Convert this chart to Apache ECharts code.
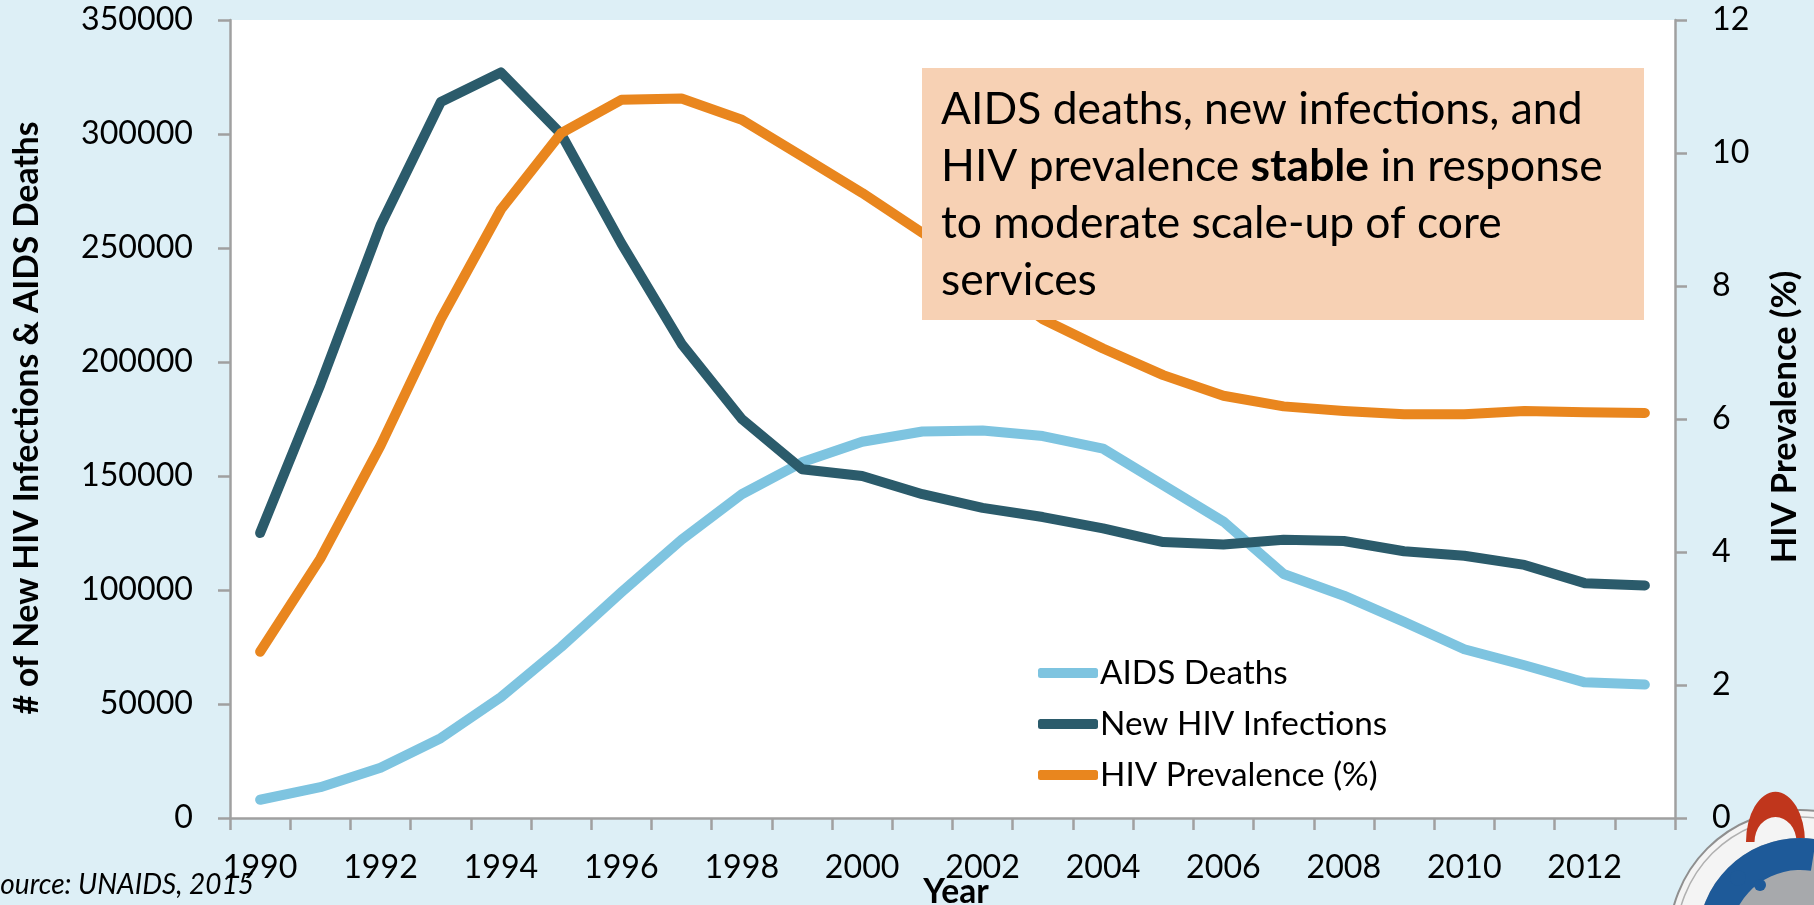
<!DOCTYPE html>
<html>
<head>
<meta charset="utf-8">
<script src="https://cdn.jsdelivr.net/npm/echarts@6/dist/echarts.min.js"></script>
<style>
html,body{margin:0;padding:0;background:#DDEFF6;overflow:hidden}
#c{width:1814px;height:905px}
</style>
</head>
<body>
<div id="c"></div>
<script>
const years = ['1990','1991','1992','1993','1994','1995','1996','1997','1998','1999','2000','2001',
               '2002','2003','2004','2005','2006','2007','2008','2009','2010','2011','2012','2013'];
const aidsDeaths = [8000,13500,22000,35000,53000,75000,99000,122000,142000,156000,165000,169500,
                    170000,167500,162000,146000,130000,107000,97500,86000,74000,67000,59500,58500];
const newInfections = [125000,190000,260000,314000,327000,300000,252000,208000,175000,153000,150000,142000,
                       136000,132000,127000,121000,120000,122000,121500,117000,115000,111000,103000,102000];
const prevalence = [2.5,3.9,5.6,7.5,9.15,10.3,10.8,10.82,10.5,9.95,9.4,8.8,
                    8.15,7.5,7.06,6.66,6.35,6.19,6.12,6.07,6.07,6.12,6.1,6.09];
const leftTicks = {min:0, max:350000, interval:50000};
const rightTicks = {min:0, max:12, interval:2};

const FONT = 'Lato';
const axisGray = '#A0A0A0';

// size a font so that a text spans the width it has in the reference
const mctx = document.createElement('canvas').getContext('2d');
function fit(text, target, weight, style) {
  mctx.font = (style || 'normal') + ' ' + (weight || 'normal') + ' 100px ' + FONT;
  return Math.round(1000 * target / mctx.measureText(text).width) / 10;
}
const fTick = fit('350000', 112);
const fName = fit('# of New HIV Infections & AIDS Deaths', 593, 'bold');
const fNameR = fit('HIV Prevalence (%)', 293, 'bold');
const fNote = fit('AIDS deaths, new infections, and', 641);
const fLeg = fit('New HIV Infections', 287);
const fSrc = fit('UNAIDS, 2015', 176, 'normal', 'italic');

const chart = echarts.init(document.getElementById('c'));

const axisCommon = {
  axisLine:{show:true, lineStyle:{color:axisGray, width:2.5}},
  axisTick:{show:true, length:12, lineStyle:{color:axisGray, width:2.5}},
  splitLine:{show:false},
  axisLabel:{fontSize:fTick, color:'#000', fontFamily:FONT, margin:37, padding:[7,0,0,0],
             formatter:function(v){return String(v);}}
};

chart.setOption({
  backgroundColor:'#DDEFF6',
  animation:false,
  grid:{left:230, right:139, top:20, bottom:87, show:true, backgroundColor:'#ffffff', borderWidth:0},
  xAxis:{
    type:'category', data:years, boundaryGap:true,
    axisLine:{show:true, lineStyle:{color:axisGray, width:2.5}},
    axisTick:{show:true, interval:0, length:12, lineStyle:{color:axisGray, width:2.5}},
    axisLabel:{interval:1, fontSize:fTick, color:'#000', fontFamily:FONT, margin:34}
  },
  yAxis:[
    Object.assign({type:'value', position:'left'}, leftTicks, axisCommon),
    Object.assign({type:'value', position:'right'}, rightTicks, axisCommon)
  ],
  legend:{
    orient:'vertical', left:1033, top:650, itemWidth:60, itemHeight:10, itemGap:15,
    icon:'roundRect',
    textStyle:{fontSize:fLeg, fontFamily:FONT, color:'#000', lineHeight:36, padding:[0,0,0,-3]},
    data:['AIDS Deaths','New HIV Infections','HIV Prevalence (%)']
  },
  series:[
    {name:'AIDS Deaths', type:'line', data:aidsDeaths, yAxisIndex:0, symbol:'none',
     color:'#7EC4E0', lineStyle:{width:10, color:'#7EC4E0', cap:'round', join:'round'}},
    {name:'New HIV Infections', type:'line', data:newInfections, yAxisIndex:0, symbol:'none',
     color:'#2B5B6B', lineStyle:{width:10, color:'#2B5B6B', cap:'round', join:'round'}},
    {name:'HIV Prevalence (%)', type:'line', data:prevalence, yAxisIndex:1, symbol:'none',
     color:'#E9861E', lineStyle:{width:10, color:'#E9861E', cap:'round', join:'round'}}
  ],
  graphic:[
    {type:'rect', z:100, shape:{x:922, y:68, width:722, height:252}, style:{fill:'#F7D1B4'}},
    {type:'text', z:101, x:941, y:81,
     style:{text:'AIDS deaths, new infections, and\nHIV prevalence {b|stable} in response\nto moderate scale-up of core\nservices',
            fontSize:fNote, fontFamily:FONT, fill:'#000', lineHeight:57, verticalAlign:'top', align:'left',
            rich:{b:{fontSize:fNote, fontFamily:FONT, fontWeight:'bold', fill:'#000', lineHeight:57}}}},
    {type:'text', z:50, x:27, y:418, rotation:Math.PI/2,
     style:{text:'# of New HIV Infections & AIDS Deaths', fontSize:fName, fontWeight:'bold', fontFamily:FONT,
            fill:'#000', align:'center', verticalAlign:'middle'}},
    {type:'text', z:50, x:1785, y:417, rotation:Math.PI/2,
     style:{text:'HIV Prevalence (%)', fontSize:fNameR, fontWeight:'bold', fontFamily:FONT,
            fill:'#000', align:'center', verticalAlign:'middle'}},
    {type:'text', z:50, x:956, y:892,
     style:{text:'Year', fontSize:fName, fontWeight:'bold', fontFamily:FONT, fill:'#000', align:'center', verticalAlign:'middle'}},
    {type:'text', z:50, x:254, y:885,
     style:{text:'Source: UNAIDS, 2015', fontSize:fSrc, fontStyle:'italic', fontFamily:FONT, fill:'#000', align:'right', verticalAlign:'middle'}},
    // seal in the corner
    {type:'circle', z:60, shape:{cx:1800, cy:941, r:131}, style:{fill:'#F4F4F4', stroke:'#8F8F8F', lineWidth:2}},
    {type:'circle', z:61, shape:{cx:1800, cy:941, r:124}, style:{fill:'none', stroke:'#B0B0B0', lineWidth:1.5}},
    {type:'sector', z:62, x:1775.5, y:842, scaleY:1.7, shape:{cx:0, cy:0, r:29.5, r0:0, startAngle:Math.PI, endAngle:Math.PI*2}, style:{fill:'#C0361C'}},
    {type:'sector', z:63, x:1775.5, y:842, scaleY:1.19, shape:{cx:0, cy:0, r:21, r0:0, startAngle:Math.PI, endAngle:Math.PI*2}, style:{fill:'#F4F4F4'}},
    {type:'circle', z:64, shape:{cx:1800, cy:940, r:102}, style:{fill:'#A7A9AC'}},
    {type:'sector', z:65, shape:{cx:1800, cy:940, r:102, r0:70, startAngle:Math.PI*1.0, endAngle:Math.PI*1.55}, style:{fill:'#1E5A99'}},
    {type:'circle', z:66, shape:{cx:1738, cy:878, r:8}, style:{fill:'#1E5A99'}},
    {type:'circle', z:66, shape:{cx:1760, cy:885, r:6}, style:{fill:'#1E5A99'}}
  ]
});
</script>
</body>
</html>
